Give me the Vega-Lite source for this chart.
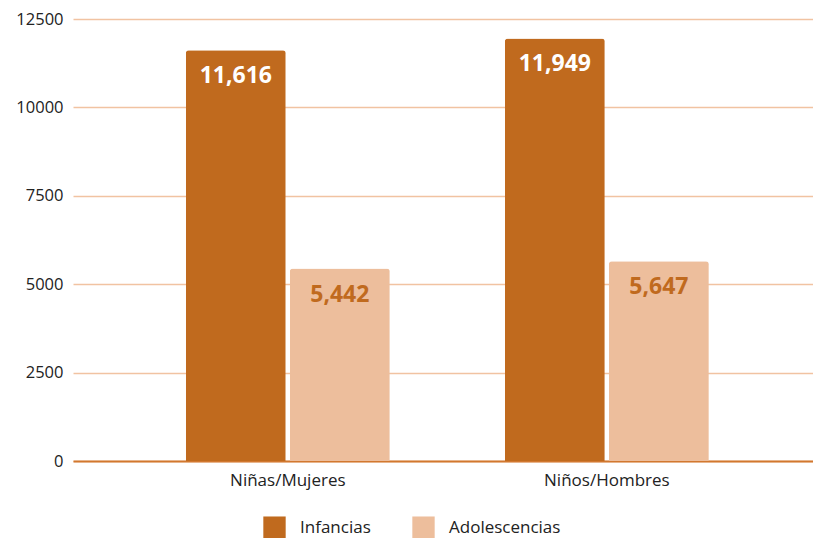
{
  "$schema": "https://vega.github.io/schema/vega-lite/v6.json",
  "width": 740,
  "height": 442,
  "autosize": "none",
  "padding": {"left": 73, "top": 19, "right": 0, "bottom": 77},
  "background": "white",
  "config": {
    "view": {"stroke": null},
    "font": "Open Sans"
  },
  "data": {
    "values": [
      {"grupo": "Niñas/Mujeres", "tipo": "Infancias", "valor": 11616},
      {"grupo": "Niñas/Mujeres", "tipo": "Adolescencias", "valor": 5442},
      {"grupo": "Niños/Hombres", "tipo": "Infancias", "valor": 11949},
      {"grupo": "Niños/Hombres", "tipo": "Adolescencias", "valor": 5647}
    ]
  },
  "encoding": {
    "x": {
      "field": "grupo",
      "type": "nominal",
      "sort": ["Niñas/Mujeres", "Niños/Hombres"],
      "scale": {"paddingInner": 0.3605, "paddingOuter": 0.34, "align": 0.52},
      "axis": {
        "title": null,
        "labelAngle": 0,
        "labelFontSize": 17,
        "labelColor": "#222222",
        "labelPadding": 11,
        "ticks": false,
        "domainColor": "#D2782F",
        "domainWidth": 2,
        "grid": false
      }
    },
    "xOffset": {
      "field": "tipo",
      "type": "nominal",
      "sort": ["Infancias", "Adolescencias"],
      "scale": {"paddingInner": 0.039, "paddingOuter": 0}
    },
    "y": {
      "field": "valor",
      "type": "quantitative",
      "scale": {"domain": [0, 12500], "nice": false},
      "axis": {
        "title": null,
        "values": [0, 2500, 5000, 7500, 10000, 12500],
        "format": "d",
        "labelFontSize": 16.5,
        "labelColor": "#222222",
        "labelPadding": 10,
        "ticks": false,
        "domain": false,
        "gridColor": "#F1C3A2",
        "gridWidth": 1.5
      }
    }
  },
  "layer": [
    {
      "mark": {"type": "bar", "cornerRadiusTopLeft": 3, "cornerRadiusTopRight": 3},
      "encoding": {
        "color": {
          "field": "tipo",
          "type": "nominal",
          "scale": {"domain": ["Infancias", "Adolescencias"], "range": ["#C06A1E", "#EDBE9C"]},
          "legend": {
            "title": null,
            "orient": "none",
            "legendX": 190,
            "legendY": 497,
            "direction": "horizontal",
            "symbolType": "square",
            "symbolSize": 500,
            "symbolStrokeWidth": 0,
            "labelFontSize": 17,
            "labelColor": "#222222",
            "labelOffset": 14,
            "columnPadding": 41
          }
        }
      }
    },
    {
      "mark": {"type": "text", "baseline": "middle", "dy": 26, "fontSize": 23, "fontWeight": "bold"},
      "encoding": {
        "text": {"field": "valor", "type": "quantitative", "format": ","},
        "color": {
          "condition": {"test": "datum.tipo === 'Infancias'", "value": "#FFFFFF"},
          "value": "#C06A1E"
        }
      }
    }
  ]
}
